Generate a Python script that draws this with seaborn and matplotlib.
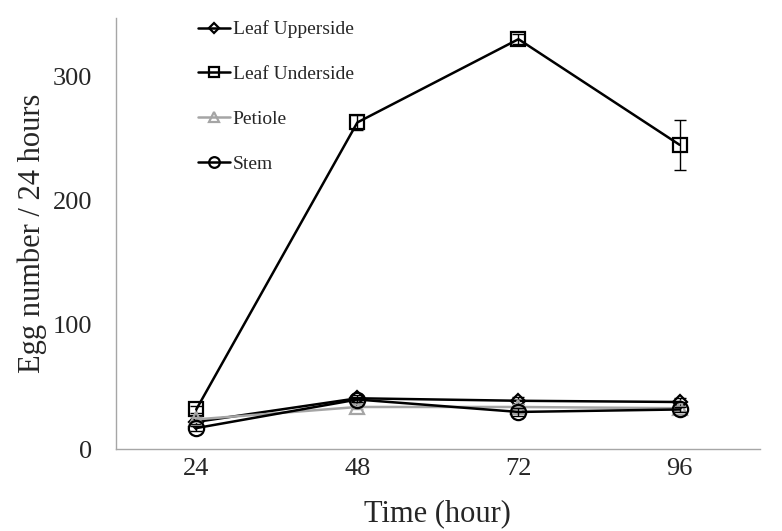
import numpy as np
import pandas as pd
import seaborn as sns
import matplotlib.pyplot as plt

hours = ['24', '48', '72', '96']
upperside = [22, 41, 39, 38]
upperside_err = [2, 3, 3, 3]
underside = [32, 263, 330, 245]
underside_err = [3, 6, 4, 20]
petiole = [24, 34, 34, 33]
petiole_err = [2, 2, 2, 2]
stem = [17, 40, 30, 32]
stem_err = [2, 2, 3, 2]

sns.set_style('white')
plt.rcParams['font.family'] = ['Liberation Serif', 'DejaVu Serif']

fig = plt.figure(figsize=(7.82, 5.31), dpi=100)
ax = fig.add_axes([0.148, 0.154, 0.824, 0.812])

x = np.arange(len(hours))
series = [
    ('Leaf Upperside', upperside, upperside_err, 'black', 'D', 7),
    ('Leaf Underside', underside, underside_err, 'black', 's', 10),
    ('Petiole', petiole, petiole_err, '#a5a5a5', '^', 10),
    ('Stem', stem, stem_err, 'black', 'o', 11),
]

for name, vals, err, col, mk, ms in series:
    ax.errorbar(x, vals, yerr=err, fmt='none', ecolor=col, elinewidth=1,
                capsize=4, capthick=1)
    sns.lineplot(x=x, y=vals, ax=ax, color=col, marker=mk, markersize=ms,
                 markerfacecolor='none', markeredgecolor=col,
                 markeredgewidth=1.6, linewidth=1.8, label=name)

ax.set_xlim(-0.5, 3.5)
ax.set_ylim(0, 347)
ax.set_xticks(x)
ax.set_xticklabels(hours)
ax.set_yticks([0, 100, 200, 300])
ax.tick_params(labelsize=19, length=0)
ax.tick_params(axis='y', pad=17)
ax.tick_params(axis='x', pad=6)
ax.set_xlabel('Time (hour)', fontsize=22, labelpad=14)
ax.set_ylabel('Egg number / 24 hours', fontsize=22, labelpad=4)

for s in ['top', 'right']:
    ax.spines[s].set_visible(False)
for s in ['left', 'bottom']:
    ax.spines[s].set_color('#a6a6a6')
    ax.spines[s].set_linewidth(1)

leg = ax.legend(loc='upper left', bbox_to_anchor=(0.1, 1.035), frameon=False,
                fontsize=14, labelspacing=1.4, handlelength=1.65,
                handletextpad=0.15, markerscale=0.7)

fig.savefig('out.png', dpi=100)
